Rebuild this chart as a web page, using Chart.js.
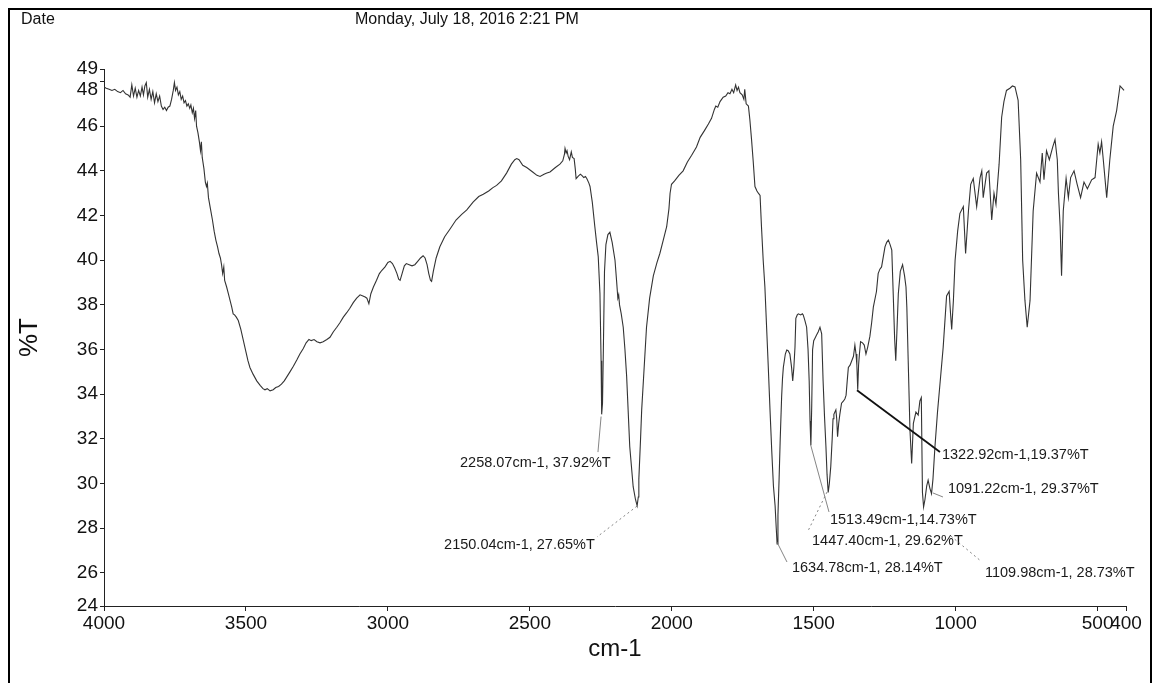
<!DOCTYPE html>
<html>
<head>
<meta charset="utf-8">
<script src="https://cdn.jsdelivr.net/npm/chart.js@4.4.1/dist/chart.umd.min.js"></script>
<style>
  html, body { margin: 0; padding: 0; background: #fff; }
  #wrap { position: relative; width: 1152px; height: 683px; overflow: hidden; font-family: "Liberation Sans", Arial, sans-serif; }
  #frame { position: absolute; left: 8px; top: 8px; width: 1140px; height: 720px; border: 2px solid #000; border-bottom: none; pointer-events: none; }
  #dateLabel { position: absolute; left: 21px; top: 10px; font-size: 16px; color: #111; }
  #stamp { position: absolute; left: 355px; top: 10px; font-size: 16px; color: #111; }
  canvas { position: absolute; left: 0; top: 0; }
</style>
</head>
<body>
<div id="wrap">
  <canvas id="irChart" width="1152" height="683"></canvas>
  <div id="frame"></div>
  <div id="dateLabel">Date</div>
  <div id="stamp">Monday, July 18, 2016 2:21 PM</div>
</div>
<script>
// axis ticks as printed by the spectrometer (ends are rounded axis limits)
const xTicks = [4000, 3500, 3000, 2500, 2000, 1500, 1000, 500, 400];
const yTicks = [24.52, 26, 28, 30, 32, 34, 36, 38, 40, 42, 44, 46, 48, 48.56];
const yTickLabels = ['24', '26', '28', '30', '32', '34', '36', '38', '40', '42', '44', '46', '48', '49'];

// [wavenumber cm-1, %T]
const spectrum = [
  [4000,47.75],[3992,47.7],[3982,47.65],[3972,47.6],[3962,47.65],[3952,47.55],[3942,47.5],[3933,47.6],
  [3924,47.45],[3915,47.4],[3908,47.3],[3902,47.85],[3896,47.35],[3890,47.7],[3884,47.3],[3878,47.6],
  [3872,47.35],[3866,47.75],[3861,47.4],[3856,47.8],[3851,47.95],[3846,47.3],[3840,47.65],[3834,47.2],
  [3828,47.55],[3822,47.05],[3816,47.45],[3810,47.1],[3804,47.35],[3798,46.9],[3792,46.75],[3786,46.85],
  [3780,46.7],[3774,46.85],[3768,46.9],[3762,47.2],[3756,47.6],[3752,47.95],[3748,47.6],[3743,47.75],
  [3738,47.4],[3733,47.55],[3728,47.2],[3723,47.35],[3718,47.05],[3713,47.15],[3708,46.9],[3703,47.0],
  [3698,46.8],[3694,46.95],[3689,46.6],[3685,46.8],[3681,46.35],[3677,46.7],[3674,46.0],[3669,45.7],
  [3664,45.3],[3660,44.9],[3657,45.3],[3654,44.6],[3648,44.1],[3643,43.5],[3639,43.3],[3636,43.45],
  [3632,42.8],[3625,42.3],[3618,41.8],[3612,41.3],[3606,40.9],[3600,40.6],[3595,40.3],[3590,40.1],
  [3586,39.8],[3582,39.4],[3578,39.7],[3575,39.1],[3568,38.8],[3562,38.5],[3556,38.2],[3550,37.9],
  [3545,37.6],[3540,37.55],[3534,37.45],[3527,37.3],[3518,36.9],[3509,36.4],[3500,35.9],[3493,35.5],
  [3486,35.2],[3475,34.9],[3462,34.6],[3450,34.4],[3440,34.25],[3433,34.2],[3425,34.25],[3415,34.15],
  [3404,34.2],[3395,34.3],[3385,34.35],[3375,34.45],[3365,34.6],[3355,34.8],[3345,35.0],[3333,35.25],
  [3320,35.55],[3310,35.8],[3298,36.05],[3288,36.3],[3278,36.45],[3270,36.4],[3260,36.45],[3250,36.35],
  [3239,36.3],[3228,36.35],[3215,36.45],[3204,36.55],[3192,36.8],[3180,37.0],[3169,37.2],[3157,37.45],
  [3145,37.65],[3134,37.85],[3122,38.1],[3110,38.3],[3098,38.45],[3088,38.4],[3080,38.35],[3074,38.3],
  [3067,38.05],[3060,38.5],[3051,38.8],[3040,39.1],[3030,39.4],[3021,39.55],[3010,39.7],[3000,39.9],
  [2992,39.95],[2984,39.85],[2976,39.65],[2968,39.4],[2962,39.15],[2957,39.1],[2950,39.4],[2942,39.75],
  [2935,39.85],[2925,39.8],[2915,39.75],[2905,39.8],[2895,39.95],[2885,40.1],[2876,40.2],[2869,40.1],
  [2862,39.8],[2856,39.4],[2850,39.1],[2846,39.05],[2840,39.5],[2830,40.1],[2817,40.6],[2800,41.05],
  [2781,41.4],[2760,41.8],[2740,42.05],[2722,42.25],[2700,42.6],[2680,42.85],[2664,42.95],[2645,43.1],
  [2630,43.25],[2617,43.35],[2600,43.55],[2582,43.9],[2565,44.3],[2553,44.5],[2546,44.55],[2538,44.5],
  [2525,44.25],[2511,44.15],[2490,43.95],[2475,43.8],[2464,43.75],[2450,43.85],[2440,43.9],[2429,43.95],
  [2410,44.15],[2394,44.3],[2384,44.45],[2378,44.75],[2376,45.0],[2372,44.8],[2369,44.9],[2365,44.65],
  [2360,44.5],[2354,44.85],[2350,44.6],[2344,44.55],[2340,44.1],[2337,43.65],[2330,43.75],[2322,43.85],
  [2317,43.8],[2310,43.7],[2304,43.75],[2299,43.65],[2292,43.45],[2288,43.3],[2280,42.6],[2271,41.5],
  [2265,40.8],[2259,40.15],[2253,38.5],[2249,35.5],[2247,33.1],[2244,33.6],[2241,36.0],[2237,39.5],
  [2232,40.7],[2225,41.15],[2218,41.25],[2210,40.8],[2200,40.0],[2194,39.0],[2190,38.3],[2187,38.45],
  [2184,38.0],[2178,37.6],[2171,37.0],[2165,36.0],[2159,34.8],[2148,31.65],[2136,29.86],[2128,29.3],
  [2122,29.0],[2118,29.4],[2116,30.2],[2110,32.0],[2106,33.3],[2100,34.6],[2089,37.0],[2078,38.3],
  [2065,39.3],[2052,39.9],[2042,40.3],[2030,40.9],[2018,41.5],[2010,42.3],[2006,43.0],[2001,43.4],
  [1990,43.55],[1975,43.8],[1960,44.0],[1945,44.4],[1930,44.7],[1913,45.07],[1900,45.5],[1885,45.8],
  [1871,46.1],[1860,46.35],[1850,46.75],[1845,46.9],[1838,46.85],[1830,47.1],[1819,47.3],[1810,47.35],
  [1802,47.5],[1795,47.45],[1788,47.65],[1782,47.5],[1775,47.85],[1770,47.6],[1765,47.75],[1760,47.5],
  [1752,47.4],[1746,47.2],[1743,47.65],[1738,47.0],[1730,46.9],[1725,46.3],[1719,45.4],[1713,44.4],
  [1707,43.3],[1700,43.1],[1695,43.0],[1689,42.9],[1684,41.5],[1678,40.0],[1672,38.8],[1666,37.0],
  [1660,35.2],[1654,33.3],[1648,31.5],[1642,29.9],[1636,29.0],[1632,28.0],[1629,27.3],[1626,28.6],
  [1622,30.2],[1618,32.0],[1613,33.9],[1610,34.7],[1607,35.2],[1600,35.8],[1595,35.98],[1590,35.95],
  [1584,35.8],[1578,35.2],[1574,34.6],[1570,35.2],[1566,36.1],[1563,37.4],[1558,37.55],[1554,37.6],
  [1546,37.55],[1540,37.6],[1537,37.55],[1531,37.3],[1525,37.0],[1520,36.0],[1516,34.6],[1513,32.8],
  [1510,31.7],[1507,33.5],[1504,36.0],[1500,36.4],[1496,36.5],[1490,36.65],[1484,36.8],[1478,37.0],
  [1472,36.7],[1467,34.6],[1462,33.0],[1457,31.66],[1453,30.4],[1449,29.6],[1445,30.0],[1440,30.76],
  [1435,32.0],[1432,32.9],[1429,33.1],[1422,33.3],[1419,32.9],[1416,32.1],[1412,32.7],[1408,33.1],
  [1402,33.6],[1395,33.7],[1390,33.8],[1386,33.96],[1382,34.6],[1378,35.2],[1372,35.3],[1366,35.5],
  [1360,35.7],[1355,36.2],[1351,35.8],[1348,35.3],[1345,34.2],[1342,35.3],[1339,35.8],[1335,36.35],
  [1328,36.3],[1322,36.2],[1316,35.8],[1310,36.1],[1302,36.6],[1296,37.2],[1290,37.9],[1279,38.6],
  [1273,39.4],[1267,39.6],[1261,39.7],[1249,40.6],[1243,40.8],[1237,40.9],[1231,40.7],[1225,40.45],
  [1220,38.5],[1215,36.5],[1211,35.5],[1207,36.8],[1202,38.5],[1195,39.5],[1187,39.8],[1180,39.3],
  [1175,38.8],[1172,37.9],[1167,35.4],[1161,32.4],[1155,30.9],[1149,32.7],[1140,33.2],[1132,33.07],
  [1126,33.7],[1121,33.85],[1117,29.6],[1113,28.95],[1108,29.3],[1102,29.9],[1097,30.15],[1091,29.8],
  [1085,29.55],[1080,30.2],[1073,31.65],[1064,33.2],[1055,34.5],[1044,36.1],[1032,38.4],[1023,38.6],
  [1018,37.6],[1014,36.9],[1008,38.2],[1002,40.0],[993,41.3],[985,42.1],[973,42.4],[965,40.3],
  [955,42.2],[947,43.4],[938,43.66],[926,42.4],[914,43.7],[908,44.0],[903,42.8],[891,43.9],
  [883,44.0],[873,41.8],[865,43.0],[858,42.5],[847,44.3],[838,46.4],[830,47.1],[821,47.6],
  [809,47.7],[800,47.8],[791,47.76],[780,47.16],[771,44.5],[764,40.0],[756,38.2],[748,37.0],
  [738,38.2],[727,42.2],[715,43.9],[703,43.5],[695,44.8],[689,43.6],[680,44.9],[670,44.5],
  [658,45.07],[650,45.4],[642,44.5],[638,43.0],[632,41.5],[627,39.3],[621,42.2],[611,43.66],
  [603,42.8],[595,43.7],[583,44.0],[572,43.4],[560,42.8],[548,43.5],[536,43.2],[521,43.6],
  [509,43.7],[498,45.2],[492,44.8],[486,45.3],[480,44.5],[468,42.8],[457,44.5],[445,46.0],
  [433,46.7],[421,47.8],[414,47.7],[407,47.6]
];

// peak picks: printed text, leader start (on the peak) and end, text anchor - all in data units
const peakTexts = [
  '2258.07cm-1, 37.92%T',
  '2150.04cm-1, 27.65%T',
  '1634.78cm-1, 28.14%T',
  '1513.49cm-1,14.73%T',
  '1447.40cm-1, 29.62%T',
  '1322.92cm-1,19.37%T',
  '1091.22cm-1, 29.37%T',
  '1109.98cm-1, 28.73%T'
];
const leaderFrom = [[2249, 33.0], [2122.5, 28.99], [1629.4, 27.38], [1509.7, 31.68], [1453.2, 29.62], [1347.6, 34.18], [1079.9, 29.58], [1016.6, 27.65]];
const leaderTo = [[2260, 31.41], [2263.4, 27.61], [1594.2, 26.49], [1446.2, 28.73], [1520.1, 27.88], [1055.3, 31.41], [1044.7, 29.4], [910.9, 26.53]];
const textAnchor = [[2746, 30.92], [2802, 27.25], [1576.6, 26.22], [1442.7, 28.37], [1506, 27.43], [1048.3, 31.28], [1027.1, 29.75], [896.8, 26.0]];

const leaderKind = ['thin', 'dots', 'thin', 'thin', 'dots', 'bold', 'thin', 'dots'];

const peakPicks = {
    id: 'peakPicks',
    afterDatasetsDraw(chart) {
        const ctx = chart.ctx;
        const x = chart.scales.x;
        const y = chart.scales.y;
        ctx.save();
        peakTexts.forEach(function (text, i) {
            let kind = leaderKind[i];
            ctx.beginPath();
            ctx.setLineDash(kind == 'dots' ? [2, 3] : []);
            ctx.strokeStyle = kind == 'bold' ? '#111' : '#777';
            ctx.lineWidth = kind == 'bold' ? 1.8 : 0.9;
            ctx.moveTo(x.getPixelForValue(leaderFrom[i][0]), y.getPixelForValue(leaderFrom[i][1]));
            ctx.lineTo(x.getPixelForValue(leaderTo[i][0]), y.getPixelForValue(leaderTo[i][1]));
            ctx.stroke();

            ctx.setLineDash([]);
            ctx.fillStyle = '#1a1a1a';
            ctx.font = '14.5px "Liberation Sans", Arial, sans-serif';
            ctx.textAlign = 'left';
            ctx.textBaseline = 'middle';
            ctx.fillText(text, x.getPixelForValue(textAnchor[i][0]), y.getPixelForValue(textAnchor[i][1]));
        });
        ctx.restore();
    }
};

Chart.defaults.font.family = '"Liberation Sans", Arial, sans-serif';
Chart.defaults.color = '#111';

const ctx = document.getElementById('irChart');
const chart = new Chart(ctx, {
    type: 'scatter',
    data: {
        datasets: [{
            label: '%T',
            data: spectrum.map(p => ({ x: p[0], y: p[1] })),
            showLine: true,
            borderColor: '#333',
            borderWidth: 1.1,
            pointRadius: 0,
            tension: 0
        }]
    },
    options: {
        responsive: false,
        animation: false,
        layout: { padding: { left: 0, right: 26, top: 69, bottom: 0 } },
        plugins: {
            legend: { display: false },
            tooltip: { enabled: false }
        },
        scales: {
            x: {
                type: 'linear',
                reverse: true,
                min: 400,
                max: 4000,
                afterBuildTicks: (scale) => { scale.ticks = xTicks.map(v => ({ value: v })); },
                afterFit: (scale) => { scale.height = 77; },
                grid: { drawOnChartArea: false, drawTicks: true, tickLength: 5, color: '#222' },
                border: { display: true, color: '#222', width: 1 },
                ticks: {
                    autoSkip: false,
                    maxRotation: 0,
                    padding: 1,
                    color: '#111',
                    font: { size: 19 },
                    callback: (v) => String(v)
                },
                title: {
                    display: true,
                    text: 'cm-1',
                    color: '#111',
                    font: { size: 24 },
                    padding: { top: 0, bottom: 19 }
                }
            },
            y: {
                type: 'linear',
                min: 24.52,
                max: 48.56,
                afterBuildTicks: (scale) => { scale.ticks = yTicks.map(v => ({ value: v })); },
                afterFit: (scale) => { scale.width = 104; },
                grid: { drawOnChartArea: false, drawTicks: true, tickLength: 4, color: '#222' },
                border: { display: true, color: '#222', width: 1 },
                ticks: {
                    autoSkip: false,
                    padding: 2,
                    color: '#111',
                    font: { size: 19, lineHeight: 0.9 },
                    // the printout pushes the "48" label below its tick so it clears "49"
                    callback: (v, i) => (i == yTicks.length - 2 ? ['', yTickLabels[i]] : yTickLabels[i])
                },
                title: {
                    display: true,
                    text: '%T',
                    color: '#111',
                    font: { size: 26 },
                    padding: { top: 14, bottom: 0 }
                }
            }
        }
    },
    plugins: [peakPicks]
});
</script>
</body>
</html>
